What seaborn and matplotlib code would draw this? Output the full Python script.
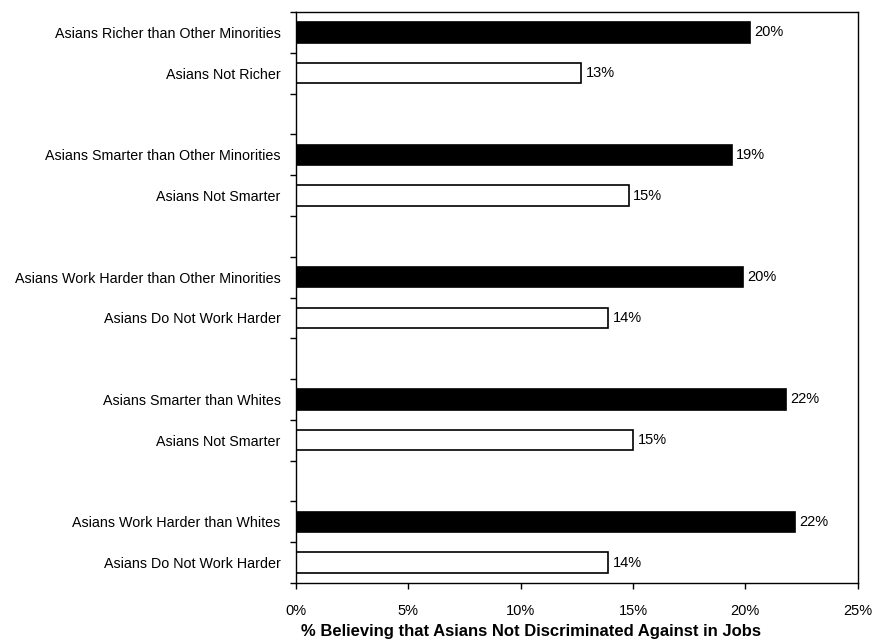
import matplotlib
matplotlib.use("Agg")
import matplotlib.pyplot as plt
import numpy as np
import pandas as pd
import seaborn as sns

# 14 category slots on the axis; empty strings are the gaps between groups
labels = [
    "Asians Richer than Other Minorities", "Asians Not Richer", "",
    "Asians Smarter than Other Minorities", "Asians Not Smarter", "",
    "Asians Work Harder than Other Minorities", "Asians Do Not Work Harder", "",
    "Asians Smarter than Whites", "Asians Not Smarter", "",
    "Asians Work Harder than Whites", "Asians Do Not Work Harder",
]
values = [20.2, 12.7, np.nan, 19.4, 14.8, np.nan, 19.9, 13.9, np.nan,
          21.8, 15.0, np.nan, 22.2, 13.9]
shown = ["20%", "13%", "", "19%", "15%", "", "20%", "14%", "",
         "22%", "15%", "", "22%", "14%"]
kind = ["yes", "no", "gap"] * 4 + ["yes", "no"]

df = pd.DataFrame({
    "slot": [str(i) for i in range(len(labels))],
    "value": values,
    "kind": kind,
})

sns.set_style("white")
plt.rcParams["font.family"] = ["Liberation Sans", "DejaVu Sans"]
plt.rcParams["text.color"] = "black"
plt.rcParams["xtick.color"] = "black"
plt.rcParams["ytick.color"] = "black"
plt.rcParams["axes.labelcolor"] = "black"

fig = plt.figure(figsize=(8.77, 6.44), dpi=100)
ax = fig.add_axes([0.3375, 0.0947, 0.6405, 0.8866])

sns.barplot(
    data=df.dropna(), x="value", y="slot", hue="kind",
    order=df["slot"].tolist(), orient="h", dodge=False,
    palette={"yes": "black", "no": "white"}, edgecolor="black",
    linewidth=1.2, width=0.5, legend=False, ax=ax,
)

for i, (v, s) in enumerate(zip(values, shown)):
    if s:
        ax.text(v + 0.2, i, s, va="center", ha="left", fontsize=10.5)

ax.set_xlim(0, 25)
ax.set_ylim(13.5, -0.5)
ax.set_xticks(np.arange(0, 26, 5))
ax.set_xticklabels([f"{t}%" for t in range(0, 26, 5)], fontsize=10.5)
ax.set_yticks(range(len(labels)))
ax.set_yticklabels(labels, fontsize=10.3)
ax.set_yticks(np.arange(-0.5, 14, 1), minor=True)
ax.tick_params(axis="y", which="major", left=False, length=0, pad=11)
ax.tick_params(axis="y", which="minor", left=True, length=4, width=1,
               direction="out", color="black")
ax.tick_params(axis="x", bottom=True, length=4, width=1, direction="out",
               color="black", pad=11)
ax.set_ylabel("")
ax.set_xlabel("% Believing that Asians Not Discriminated Against in Jobs",
              fontsize=12, fontweight="bold")
ax.xaxis.set_label_coords(0.418, -0.071)

for sp in ax.spines.values():
    sp.set_visible(True)
    sp.set_color("black")
    sp.set_linewidth(1)

fig.savefig("out.png", dpi=100)
